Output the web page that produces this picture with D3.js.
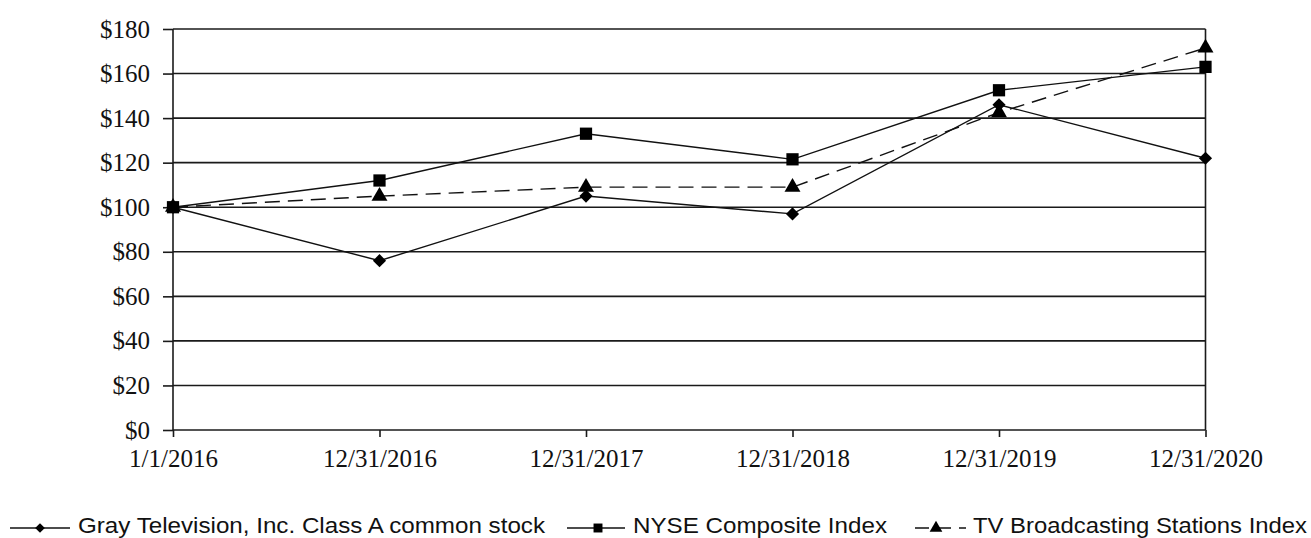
<!DOCTYPE html>
<html>
<head>
<meta charset="utf-8">
<script src="https://cdn.jsdelivr.net/npm/d3@7/dist/d3.min.js"></script>
<style>
  html, body { margin: 0; padding: 0; background: #fff; }
  svg { display: block; }
</style>
</head>
<body>
<svg id="chart" width="1311" height="538"></svg>
<script>
// ---- data ----
const categories = ["1/1/2016", "12/31/2016", "12/31/2017", "12/31/2018", "12/31/2019", "12/31/2020"];
const grayValues = [100, 76, 105, 97, 146, 122];
const nyseValues = [100, 112, 133, 121.5, 152.5, 163];
const tvValues   = [100, 105, 109, 109, 142.5, 171.5];
const yTicks = [0, 20, 40, 60, 80, 100, 120, 140, 160, 180];
const seriesNames = ["Gray Television, Inc. Class A common stock", "NYSE Composite Index", "TV Broadcasting Stations Index"];

// ---- layout ----
const svg = d3.select("#chart");
const plotLeft = 173, plotRight = 1205.5, plotTop = 29, plotBottom = 430;
const ink = "#1a1a1a";

const x = d3.scalePoint().domain(categories).range([plotLeft, plotRight]);
const y = d3.scaleLinear().domain([0, 180]).range([plotBottom, plotTop]);

// gridlines
svg.append("g")
  .selectAll("line").data(yTicks.filter(d => d > 0)).join("line")
  .attr("x1", plotLeft).attr("x2", plotRight)
  .attr("y1", d => y(d)).attr("y2", d => y(d))
  .attr("stroke", ink).attr("stroke-width", 1.6);

// y axis
const yAxis = d3.axisLeft(y).tickValues(yTicks).tickSize(10).tickPadding(13)
  .tickFormat(d => "$" + d);
const gy = svg.append("g").attr("transform", `translate(${plotLeft},0)`).call(yAxis);
gy.select(".domain").attr("stroke", ink).attr("stroke-width", 1.6).attr("d", `M0,${plotTop}V${plotBottom}`);
gy.selectAll(".tick line").attr("stroke", ink).attr("stroke-width", 1.6);
gy.selectAll(".tick text")
  .attr("font-family", "'Liberation Serif', 'Times New Roman', serif")
  .attr("font-size", 25).attr("fill", "#111");

// x axis
const xAxis = d3.axisBottom(x).tickSize(7).tickPadding(12);
const gx = svg.append("g").attr("transform", `translate(0,${plotBottom})`).call(xAxis);
gx.select(".domain").attr("stroke", ink).attr("stroke-width", 1.6).attr("d", `M${plotLeft},0H${plotRight}`);
gx.selectAll(".tick line").attr("stroke", ink).attr("stroke-width", 1.6);
gx.selectAll(".tick text")
  .attr("font-family", "'Liberation Serif', 'Times New Roman', serif")
  .attr("font-size", 25).attr("fill", "#111");

// right border
svg.append("line")
  .attr("x1", plotRight).attr("x2", plotRight).attr("y1", y(180)).attr("y2", plotBottom)
  .attr("stroke", ink).attr("stroke-width", 1.6);

// ---- series ----
const line = d3.line().x((d, i) => x(categories[i])).y(d => y(d));

const series = [
  { values: grayValues, dash: null, marker: "diamond" },
  { values: nyseValues, dash: null, marker: "square" },
  { values: tvValues, dash: "15,8", marker: "triangle" }
];

const sym = {
  diamond: d3.symbol().type(d3.symbolDiamond2).size(110),
  square: d3.symbol().type(d3.symbolSquare).size(150),
  triangle: d3.symbol().type(d3.symbolTriangle).size(110)
};
const symSmall = {
  diamond: d3.symbol().type(d3.symbolDiamond2).size(60),
  square: d3.symbol().type(d3.symbolSquare).size(80),
  triangle: d3.symbol().type(d3.symbolTriangle).size(70)
};

series.forEach(s => {
  svg.append("path").datum(s.values)
    .attr("d", line).attr("fill", "none")
    .attr("stroke", "#111").attr("stroke-width", 1.4)
    .attr("stroke-dasharray", s.dash);
});
series.forEach(s => {
  svg.append("g").selectAll("path").data(s.values).join("path")
    .attr("transform", (d, i) => `translate(${x(categories[i])},${y(d)})`)
    .attr("d", sym[s.marker]()).attr("fill", "#000");
});

// ---- legend ----
const legendItems = [
  { name: seriesNames[0], x1: 10, x2: 70, mx: 40, tx: 78, tw: 467, dash: null, marker: "diamond" },
  { name: seriesNames[1], x1: 567, x2: 625, mx: 598, tx: 633, tw: 254, dash: null, marker: "square" },
  { name: seriesNames[2], x1: 915, x2: 966, mx: 936, tx: 973, tw: 334, dash: "14,8", marker: "triangle" }
];
const ly = 528;
const lg = svg.append("g");
legendItems.forEach(it => {
  lg.append("line").attr("x1", it.x1).attr("x2", it.x2).attr("y1", ly).attr("y2", ly)
    .attr("stroke", "#111").attr("stroke-width", 1.5).attr("stroke-dasharray", it.dash);
  lg.append("path").attr("transform", `translate(${it.mx},${ly})`)
    .attr("d", symSmall[it.marker]()).attr("fill", "#000");
  lg.append("text").attr("x", it.tx).attr("y", 533)
    .attr("font-family", "'Liberation Sans', Arial, sans-serif")
    .attr("font-size", 22).attr("fill", "#111")
    .attr("textLength", it.tw).attr("lengthAdjust", "spacingAndGlyphs")
    .text(it.name);
});
</script>
</body>
</html>
